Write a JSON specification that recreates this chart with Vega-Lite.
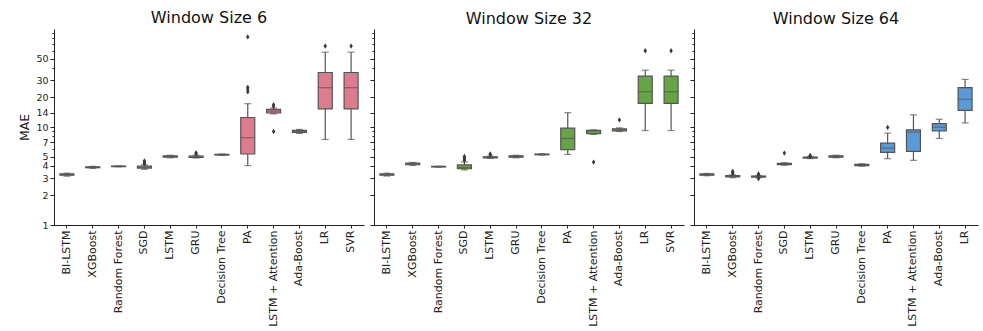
{
  "$schema": "https://vega.github.io/schema/vega-lite/v6.json",
  "padding": {"left": 18, "top": 10, "right": 5, "bottom": 0},
  "spacing": 5,
  "config": {
    "view": {"stroke": null},
    "font": "DejaVu Sans",
    "axis": {"domainColor": "#222", "tickColor": "#222", "labelColor": "#222", "titleColor": "#222", "labelFont": "DejaVu Sans", "titleFont": "DejaVu Sans", "labelFontSize": 11, "titleFontSize": 12.5, "titleFontWeight": "normal", "domainWidth": 1, "tickWidth": 1, "grid": false},
    "title": {"font": "DejaVu Sans", "fontSize": 16, "fontWeight": "normal", "color": "#111", "offset": 2, "frame": "group", "anchor": "middle"}
  },
  "datasets": {
    "boxes": [
      {"window": 6, "model": "BI-LSTM", "lo": 3.15, "q1": 3.22, "med": 3.27, "q3": 3.32, "hi": 3.38},
      {"window": 6, "model": "XGBoost", "lo": 3.78, "q1": 3.84, "med": 3.88, "q3": 3.92, "hi": 3.97},
      {"window": 6, "model": "Random Forest", "lo": 3.93, "q1": 3.95, "med": 3.97, "q3": 3.99, "hi": 4.01},
      {"window": 6, "model": "SGD", "lo": 3.7, "q1": 3.8, "med": 3.88, "q3": 3.98, "hi": 4.12},
      {"window": 6, "model": "LSTM", "lo": 4.85, "q1": 4.92, "med": 5.0, "q3": 5.08, "hi": 5.15},
      {"window": 6, "model": "GRU", "lo": 4.82, "q1": 4.9, "med": 4.98, "q3": 5.06, "hi": 5.15},
      {"window": 6, "model": "Decision Tree", "lo": 5.15, "q1": 5.18, "med": 5.22, "q3": 5.26, "hi": 5.3},
      {"window": 6, "model": "PA", "lo": 4.04, "q1": 5.3, "med": 7.77, "q3": 12.5, "hi": 17.3},
      {"window": 6, "model": "LSTM + Attention", "lo": 13.6, "q1": 13.9, "med": 14.5, "q3": 15.1, "hi": 15.6},
      {"window": 6, "model": "Ada-Boost", "lo": 8.6, "q1": 8.8, "med": 9.0, "q3": 9.25, "hi": 9.45},
      {"window": 6, "model": "LR", "lo": 7.47, "q1": 15.3, "med": 25.2, "q3": 36, "hi": 58},
      {"window": 6, "model": "SVR", "lo": 7.47, "q1": 15.3, "med": 25.2, "q3": 36, "hi": 58},
      {"window": 32, "model": "BI-LSTM", "lo": 3.16, "q1": 3.22, "med": 3.27, "q3": 3.32, "hi": 3.38},
      {"window": 32, "model": "XGBoost", "lo": 4.05, "q1": 4.12, "med": 4.2, "q3": 4.28, "hi": 4.35},
      {"window": 32, "model": "Random Forest", "lo": 3.9, "q1": 3.92, "med": 3.94, "q3": 3.96, "hi": 3.98},
      {"window": 32, "model": "SGD", "lo": 3.65, "q1": 3.75, "med": 3.85, "q3": 4.1, "hi": 4.4},
      {"window": 32, "model": "LSTM", "lo": 4.78, "q1": 4.84, "med": 4.9, "q3": 4.96, "hi": 5.05},
      {"window": 32, "model": "GRU", "lo": 4.85, "q1": 4.92, "med": 5.0, "q3": 5.08, "hi": 5.15},
      {"window": 32, "model": "Decision Tree", "lo": 5.17, "q1": 5.21, "med": 5.25, "q3": 5.29, "hi": 5.33},
      {"window": 32, "model": "PA", "lo": 5.25, "q1": 5.87, "med": 7.64, "q3": 9.72, "hi": 14.0},
      {"window": 32, "model": "LSTM + Attention", "lo": 8.4, "q1": 8.55, "med": 9.1, "q3": 9.25, "hi": 9.35},
      {"window": 32, "model": "Ada-Boost", "lo": 9.0, "q1": 9.15, "med": 9.35, "q3": 9.6, "hi": 9.8},
      {"window": 32, "model": "LR", "lo": 9.2, "q1": 17.4, "med": 22.9, "q3": 33.1, "hi": 38},
      {"window": 32, "model": "SVR", "lo": 9.2, "q1": 17.4, "med": 22.9, "q3": 33.1, "hi": 38},
      {"window": 64, "model": "BI-LSTM", "lo": 3.18, "q1": 3.22, "med": 3.27, "q3": 3.32, "hi": 3.36},
      {"window": 64, "model": "XGBoost", "lo": 3.04, "q1": 3.09, "med": 3.14, "q3": 3.19, "hi": 3.25},
      {"window": 64, "model": "Random Forest", "lo": 3.03, "q1": 3.08, "med": 3.12, "q3": 3.16, "hi": 3.2},
      {"window": 64, "model": "SGD", "lo": 4.08, "q1": 4.14, "med": 4.2, "q3": 4.26, "hi": 4.32},
      {"window": 64, "model": "LSTM", "lo": 4.76, "q1": 4.82, "med": 4.87, "q3": 4.93, "hi": 5.0},
      {"window": 64, "model": "GRU", "lo": 4.85, "q1": 4.92, "med": 5.0, "q3": 5.08, "hi": 5.15},
      {"window": 64, "model": "Decision Tree", "lo": 3.98, "q1": 4.04, "med": 4.1, "q3": 4.16, "hi": 4.22},
      {"window": 64, "model": "PA", "lo": 4.75, "q1": 5.51, "med": 6.1, "q3": 6.85, "hi": 8.65},
      {"window": 64, "model": "LSTM + Attention", "lo": 4.57, "q1": 5.64, "med": 8.86, "q3": 9.36, "hi": 13.3},
      {"window": 64, "model": "Ada-Boost", "lo": 7.64, "q1": 9.15, "med": 9.95, "q3": 10.8, "hi": 12.0},
      {"window": 64, "model": "LR", "lo": 11.0, "q1": 14.8, "med": 19.2, "q3": 25.2, "hi": 30.6}
    ],
    "outliers": [
      {"window": 6, "model": "SGD", "value": 4.2},
      {"window": 6, "model": "SGD", "value": 4.3},
      {"window": 6, "model": "SGD", "value": 4.4},
      {"window": 6, "model": "SGD", "value": 4.5},
      {"window": 6, "model": "GRU", "value": 5.3},
      {"window": 6, "model": "GRU", "value": 5.45},
      {"window": 6, "model": "PA", "value": 22.9},
      {"window": 6, "model": "PA", "value": 24.3},
      {"window": 6, "model": "PA", "value": 25.4},
      {"window": 6, "model": "PA", "value": 83},
      {"window": 6, "model": "LSTM + Attention", "value": 9.0},
      {"window": 6, "model": "LSTM + Attention", "value": 16.2},
      {"window": 6, "model": "LSTM + Attention", "value": 16.9},
      {"window": 6, "model": "LR", "value": 67},
      {"window": 6, "model": "SVR", "value": 67},
      {"window": 32, "model": "SGD", "value": 4.55},
      {"window": 32, "model": "SGD", "value": 4.7},
      {"window": 32, "model": "SGD", "value": 4.85},
      {"window": 32, "model": "SGD", "value": 5.0},
      {"window": 32, "model": "LSTM", "value": 5.2},
      {"window": 32, "model": "LSTM", "value": 5.3},
      {"window": 32, "model": "LSTM + Attention", "value": 4.39},
      {"window": 32, "model": "Ada-Boost", "value": 11.8},
      {"window": 32, "model": "LR", "value": 60},
      {"window": 32, "model": "SVR", "value": 60},
      {"window": 64, "model": "XGBoost", "value": 3.35},
      {"window": 64, "model": "XGBoost", "value": 3.45},
      {"window": 64, "model": "XGBoost", "value": 3.53},
      {"window": 64, "model": "Random Forest", "value": 2.97},
      {"window": 64, "model": "Random Forest", "value": 3.25},
      {"window": 64, "model": "Random Forest", "value": 3.32},
      {"window": 64, "model": "SGD", "value": 5.42},
      {"window": 64, "model": "LSTM", "value": 5.05},
      {"window": 64, "model": "LSTM", "value": 5.12},
      {"window": 64, "model": "PA", "value": 9.9}
    ]
  },
  "hconcat": [
    {
      "title": "Window Size 6",
      "width": 310,
      "height": 196,
      "layer": [
        {"data": {"name": "boxes"}, "transform": [{"filter": "datum.window == 6"}],
         "mark": {"type": "rule", "color": "#555555", "strokeWidth": 1.2},
         "encoding": {
           "x": {"field": "model", "type": "nominal", "sort": ["BI-LSTM", "XGBoost", "Random Forest", "SGD", "LSTM", "GRU", "Decision Tree", "PA", "LSTM + Attention", "Ada-Boost", "LR", "SVR"],
                 "scale": {"type": "band", "domain": ["BI-LSTM", "XGBoost", "Random Forest", "SGD", "LSTM", "GRU", "Decision Tree", "PA", "LSTM + Attention", "Ada-Boost", "LR", "SVR"], "paddingInner": 0, "paddingOuter": 0},
                 "axis": {"title": null, "labelAngle": -90, "tickSize": 3, "labelPadding": 2}},
           "y": {"field": "lo", "type": "quantitative", "scale": {"type": "log", "domain": [1, 100], "nice": false},
                 "axis": {"title": "MAE", "titlePadding": 4, "values": [1, 2, 3, 4, 5, 6, 7, 8, 9, 10, 14, 20, 30, 40, 50, 60, 70, 80, 90],
                          "labelExpr": "indexof([1,2,3,4,5,7,10,14,20,30,50], datum.value) >= 0 ? '' + datum.value : ''",
                          "labelOverlap": false, "labelPadding": 2, "labelFontSize": 9.5,
                          "tickSize": {"condition": {"test": "indexof([1,2,3,4,5,7,10,14,20,30,50], datum.value) >= 0", "value": 4}, "value": 2}}},
           "y2": {"field": "hi"}
         }},
        {"data": {"name": "boxes"}, "transform": [{"filter": "datum.window == 6"}],
         "mark": {"type": "tick", "color": "#555555", "size": 7, "thickness": 1.2},
         "encoding": {"x": {"field": "model", "type": "nominal"}, "y": {"field": "lo", "type": "quantitative"}}},
        {"data": {"name": "boxes"}, "transform": [{"filter": "datum.window == 6"}],
         "mark": {"type": "tick", "color": "#555555", "size": 7, "thickness": 1.2},
         "encoding": {"x": {"field": "model", "type": "nominal"}, "y": {"field": "hi", "type": "quantitative"}}},
        {"data": {"name": "boxes"}, "transform": [{"filter": "datum.window == 6"}],
         "mark": {"type": "bar", "width": 14, "fill": "#dd7b8f", "stroke": "#555555", "strokeWidth": 1.2},
         "encoding": {"x": {"field": "model", "type": "nominal"}, "y": {"field": "q1", "type": "quantitative"}, "y2": {"field": "q3"}}},
        {"data": {"name": "boxes"}, "transform": [{"filter": "datum.window == 6"}],
         "mark": {"type": "tick", "color": "#555555", "size": 14, "thickness": 1.2},
         "encoding": {"x": {"field": "model", "type": "nominal"}, "y": {"field": "med", "type": "quantitative"}}},
        {"data": {"name": "outliers"}, "transform": [{"filter": "datum.window == 6"}],
         "mark": {"type": "point", "shape": "M0,-1L0.65,0L0,1L-0.65,0Z", "filled": true, "color": "#3a3a3a", "size": 28, "opacity": 1},
         "encoding": {"x": {"field": "model", "type": "nominal"}, "y": {"field": "value", "type": "quantitative"}}}
      ]
    },
    {
      "title": "Window Size 32",
      "width": 310,
      "height": 196,
      "layer": [
        {"data": {"name": "boxes"}, "transform": [{"filter": "datum.window == 32"}],
         "mark": {"type": "rule", "color": "#555555", "strokeWidth": 1.2},
         "encoding": {
           "x": {"field": "model", "type": "nominal", "sort": ["BI-LSTM", "XGBoost", "Random Forest", "SGD", "LSTM", "GRU", "Decision Tree", "PA", "LSTM + Attention", "Ada-Boost", "LR", "SVR"],
                 "scale": {"type": "band", "domain": ["BI-LSTM", "XGBoost", "Random Forest", "SGD", "LSTM", "GRU", "Decision Tree", "PA", "LSTM + Attention", "Ada-Boost", "LR", "SVR"], "paddingInner": 0, "paddingOuter": 0},
                 "axis": {"title": null, "labelAngle": -90, "tickSize": 3, "labelPadding": 2}},
           "y": {"field": "lo", "type": "quantitative", "scale": {"type": "log", "domain": [1, 100], "nice": false},
                 "axis": {"title": null, "labels": false, "values": [1, 2, 3, 4, 5, 6, 7, 8, 9, 10, 14, 20, 30, 40, 50, 60, 70, 80, 90],
                          "tickSize": {"condition": {"test": "indexof([1,2,3,4,5,7,10,14,20,30,50], datum.value) >= 0", "value": 4}, "value": 2}}},
           "y2": {"field": "hi"}
         }},
        {"data": {"name": "boxes"}, "transform": [{"filter": "datum.window == 32"}],
         "mark": {"type": "tick", "color": "#555555", "size": 7, "thickness": 1.2},
         "encoding": {"x": {"field": "model", "type": "nominal"}, "y": {"field": "lo", "type": "quantitative"}}},
        {"data": {"name": "boxes"}, "transform": [{"filter": "datum.window == 32"}],
         "mark": {"type": "tick", "color": "#555555", "size": 7, "thickness": 1.2},
         "encoding": {"x": {"field": "model", "type": "nominal"}, "y": {"field": "hi", "type": "quantitative"}}},
        {"data": {"name": "boxes"}, "transform": [{"filter": "datum.window == 32"}],
         "mark": {"type": "bar", "width": 14, "fill": "#67a544", "stroke": "#555555", "strokeWidth": 1.2},
         "encoding": {"x": {"field": "model", "type": "nominal"}, "y": {"field": "q1", "type": "quantitative"}, "y2": {"field": "q3"}}},
        {"data": {"name": "boxes"}, "transform": [{"filter": "datum.window == 32"}],
         "mark": {"type": "tick", "color": "#555555", "size": 14, "thickness": 1.2},
         "encoding": {"x": {"field": "model", "type": "nominal"}, "y": {"field": "med", "type": "quantitative"}}},
        {"data": {"name": "outliers"}, "transform": [{"filter": "datum.window == 32"}],
         "mark": {"type": "point", "shape": "M0,-1L0.65,0L0,1L-0.65,0Z", "filled": true, "color": "#3a3a3a", "size": 28, "opacity": 1},
         "encoding": {"x": {"field": "model", "type": "nominal"}, "y": {"field": "value", "type": "quantitative"}}}
      ]
    },
    {
      "title": "Window Size 64",
      "width": 284,
      "height": 196,
      "layer": [
        {"data": {"name": "boxes"}, "transform": [{"filter": "datum.window == 64"}],
         "mark": {"type": "rule", "color": "#555555", "strokeWidth": 1.2},
         "encoding": {
           "x": {"field": "model", "type": "nominal", "sort": ["BI-LSTM", "XGBoost", "Random Forest", "SGD", "LSTM", "GRU", "Decision Tree", "PA", "LSTM + Attention", "Ada-Boost", "LR"],
                 "scale": {"type": "band", "domain": ["BI-LSTM", "XGBoost", "Random Forest", "SGD", "LSTM", "GRU", "Decision Tree", "PA", "LSTM + Attention", "Ada-Boost", "LR"], "paddingInner": 0, "paddingOuter": 0},
                 "axis": {"title": null, "labelAngle": -90, "tickSize": 3, "labelPadding": 2}},
           "y": {"field": "lo", "type": "quantitative", "scale": {"type": "log", "domain": [1, 100], "nice": false},
                 "axis": {"title": null, "labels": false, "values": [1, 2, 3, 4, 5, 6, 7, 8, 9, 10, 14, 20, 30, 40, 50, 60, 70, 80, 90],
                          "tickSize": {"condition": {"test": "indexof([1,2,3,4,5,7,10,14,20,30,50], datum.value) >= 0", "value": 4}, "value": 2}}},
           "y2": {"field": "hi"}
         }},
        {"data": {"name": "boxes"}, "transform": [{"filter": "datum.window == 64"}],
         "mark": {"type": "tick", "color": "#555555", "size": 7, "thickness": 1.2},
         "encoding": {"x": {"field": "model", "type": "nominal"}, "y": {"field": "lo", "type": "quantitative"}}},
        {"data": {"name": "boxes"}, "transform": [{"filter": "datum.window == 64"}],
         "mark": {"type": "tick", "color": "#555555", "size": 7, "thickness": 1.2},
         "encoding": {"x": {"field": "model", "type": "nominal"}, "y": {"field": "hi", "type": "quantitative"}}},
        {"data": {"name": "boxes"}, "transform": [{"filter": "datum.window == 64"}],
         "mark": {"type": "bar", "width": 14, "fill": "#5a9ad6", "stroke": "#555555", "strokeWidth": 1.2},
         "encoding": {"x": {"field": "model", "type": "nominal"}, "y": {"field": "q1", "type": "quantitative"}, "y2": {"field": "q3"}}},
        {"data": {"name": "boxes"}, "transform": [{"filter": "datum.window == 64"}],
         "mark": {"type": "tick", "color": "#555555", "size": 14, "thickness": 1.2},
         "encoding": {"x": {"field": "model", "type": "nominal"}, "y": {"field": "med", "type": "quantitative"}}},
        {"data": {"name": "outliers"}, "transform": [{"filter": "datum.window == 64"}],
         "mark": {"type": "point", "shape": "M0,-1L0.65,0L0,1L-0.65,0Z", "filled": true, "color": "#3a3a3a", "size": 28, "opacity": 1},
         "encoding": {"x": {"field": "model", "type": "nominal"}, "y": {"field": "value", "type": "quantitative"}}}
      ]
    }
  ]
}
